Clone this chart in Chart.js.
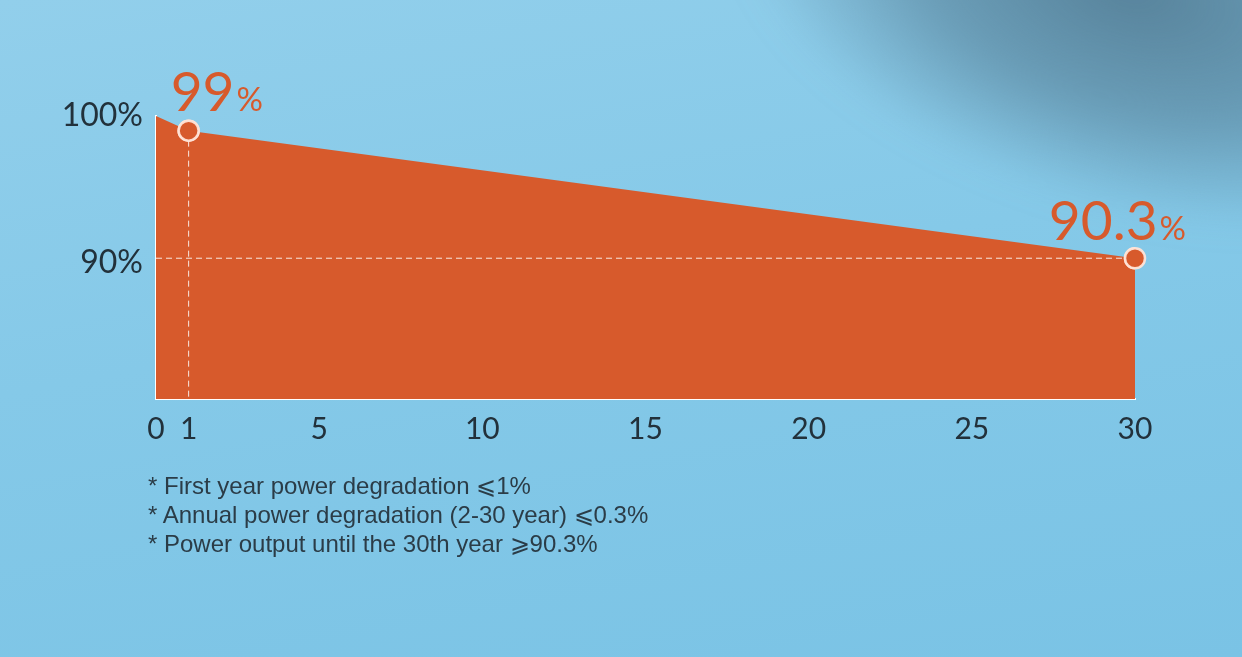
<!DOCTYPE html>
<html>
<head>
<meta charset="utf-8">
<script src="https://cdn.jsdelivr.net/npm/chart.js@4/dist/chart.umd.min.js"></script>
<style>
  html, body { margin: 0; padding: 0; }
  body {
    width: 1242px; height: 657px; overflow: hidden; position: relative;
    background: linear-gradient(170deg, #92cfeb 0%, #85c9e8 45%, #7ac3e5 100%);
  }
  #shade {
    position: absolute; left: 720px; top: -230px; width: 820px; height: 440px;
    background: radial-gradient(ellipse at center, rgba(84,126,150,0.95) 0%, rgba(84,126,150,0.6) 38%, rgba(84,126,150,0) 70%);
    transform: rotate(16deg);
    filter: blur(18px);
  }
  #wrap { position: absolute; left: 0; top: 0; width: 1242px; height: 657px; }
  .notes {
    position: absolute; left: 148px; top: 471px;
    font-family: "Liberation Sans", Arial, sans-serif; font-size: 24px;
    line-height: 29px; color: #2b3c47;
  }
</style>
</head>
<body>
<div id="shade"></div>
<div id="wrap"><canvas id="myChartline"></canvas></div>
<div class="notes">
  <div>* First year power degradation ⩽1%</div>
  <div>* Annual power degradation (2-30 year) ⩽0.3%</div>
  <div>* Power output until the 30th year ⩾90.3%</div>
</div>
<script>
// years and remaining power output (%)
var years = [0, 1, 30];
var output = [100, 99, 90.3];
var xTicks = [0, 1, 5, 10, 15, 20, 25, 30];
var yTicks = [90, 100];
var callouts = [{ idx: 1, num: '99' }, { idx: 2, num: '90.3' }];

var orange = '#d75a2c';

// dashed guides + big value labels
var guides = {
  id: 'guides',
  afterDatasetsDraw: function(chart) {
    var ctx = chart.ctx;
    var area = chart.chartArea;
    var pts = chart.getDatasetMeta(0).data;
    var p1 = pts[1], p2 = pts[2];
    ctx.save();
    ctx.strokeStyle = 'rgba(255,255,255,0.85)';
    ctx.lineWidth = 1;
    ctx.setLineDash([6, 4]);
    ctx.beginPath();
    ctx.moveTo(p1.x, p1.y + 10);
    ctx.lineTo(p1.x, area.bottom);
    ctx.moveTo(area.left, p2.y);
    ctx.lineTo(p2.x - 10, p2.y);
    ctx.stroke();
    ctx.restore();

    // redraw points on top of guides
    pts.forEach(function(pt) { pt.draw(ctx, area); });

    ctx.save();
    ctx.fillStyle = orange;
    ctx.textBaseline = 'alphabetic';
    callouts.forEach(function(c) {
      var pt = pts[c.idx];
      ctx.font = '55px Lato, sans-serif';
      var w1 = ctx.measureText(c.num).width;
      ctx.font = '33px Lato, sans-serif';
      var w2 = ctx.measureText('%').width;
      var left, base;
      if (c.idx === 1) { left = pt.x - 18; base = pt.y - 20; }
      else { left = pt.x + 51 - w1 - w2 - 2; base = pt.y - 18; }
      ctx.font = '55px Lato, sans-serif';
      ctx.fillText(c.num, left, base);
      ctx.font = '33px Lato, sans-serif';
      ctx.fillText('%', left + w1 + 2, base);
    });
    ctx.restore();
  }
};

function drawLineGraph() {
  var ctx = document.getElementById('myChartline').getContext('2d');
  var chart = new Chart(ctx, {
    type: 'line',
    data: {
      datasets: [{
        data: years.map(function(y, i) { return { x: y, y: output[i] }; }),
        backgroundColor: orange,
        borderColor: orange,
        borderWidth: 0,
        fill: 'origin',
        tension: 0,
        pointRadius: [0, 10, 10],
        pointBackgroundColor: orange,
        pointBorderColor: 'rgba(255,228,215,0.95)',
        pointBorderWidth: 2.5
      }]
    },
    options: {
      responsive: false,
      animation: false,
      devicePixelRatio: 1,
      layout: { padding: { top: 116, right: 107, left: 0, bottom: 0 } },
      plugins: { legend: { display: false }, tooltip: { enabled: false } },
      scales: {
        x: {
          type: 'linear', min: 0, max: 30,
          afterBuildTicks: function(axis) { axis.ticks = xTicks.map(function(v) { return { value: v }; }); },
          afterFit: function(axis) { axis.height = 258; },
          grid: { display: false, drawTicks: false },
          border: { display: true, color: '#ffffff', width: 2 },
          ticks: {
            padding: 12, autoSkip: false, maxRotation: 0,
            color: '#22313b', font: { family: 'Lato', size: 30 }
          }
        },
        y: {
          min: 80.7, max: 100,
          afterBuildTicks: function(axis) { axis.ticks = yTicks.map(function(v) { return { value: v }; }); },
          afterFit: function(axis) { axis.width = 156; },
          grid: { display: false, drawTicks: false },
          border: { display: true, color: '#ffffff', width: 2 },
          ticks: {
            padding: 13, color: '#22313b', font: { family: 'Lato', size: 32 },
            callback: function(value) { return value + '%'; }
          }
        }
      }
    },
    plugins: [guides]
  });
}

var cv = document.getElementById('myChartline');
cv.width = 1242; cv.height = 657;
drawLineGraph();
</script>
</body>
</html>
